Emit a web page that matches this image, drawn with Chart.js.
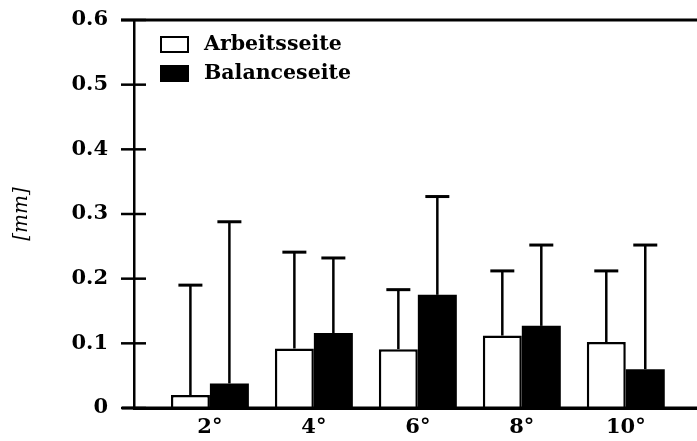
<!DOCTYPE html>
<html>
<head>
<meta charset="utf-8">
<script src="https://cdn.jsdelivr.net/npm/chart.js@4/dist/chart.umd.min.js"></script>
<style>
  html, body { margin: 0; padding: 0; background: #fff; }
  #wrap { width: 697px; height: 441px; position: relative; }
</style>
</head>
<body>
<div id="wrap"><canvas id="chart"></canvas></div>
<script>
// ---------- DATA ----------
const angles      = [2, 4, 6, 8, 10];
const angleLabels = ["2°", "4°", "6°", "8°", "10°"];
const yTicks      = [0, 0.1, 0.2, 0.3, 0.4, 0.5, 0.6];

const arbeitMean  = [0.02, 0.092, 0.091, 0.112, 0.102];
const arbeitSD    = [0.19, 0.241, 0.183, 0.212, 0.212];
const balanceMean = [0.038, 0.116, 0.175, 0.127, 0.060];
const balanceSD   = [0.288, 0.232, 0.327, 0.252, 0.252];

const SERIF = '"DejaVu Serif", "Liberation Serif", serif';

// ---------- ERROR BARS (upper only) ----------
const errorBars = {
  id: "errorBars",
  afterDatasetsDraw(chart) {
    const ctx = chart.ctx;
    const y = chart.scales.y;
    chart.data.datasets.forEach((ds, i) => {
      const meta = chart.getDatasetMeta(i);
      meta.data.forEach((bar, j) => {
        const top = y.getPixelForValue(ds.errTop[j]);
        ctx.save();
        ctx.strokeStyle = "#000";
        ctx.lineWidth = 2.5;
        ctx.beginPath();
        ctx.moveTo(bar.x, bar.y);
        ctx.lineTo(bar.x, top);
        ctx.stroke();
        ctx.lineWidth = 3;
        ctx.beginPath();
        ctx.moveTo(bar.x - 12, top);
        ctx.lineTo(bar.x + 12, top);
        ctx.stroke();
        ctx.restore();
      });
    });
  }
};

// ---------- FRAME: tick crosses, top + bottom lines ----------
const frame = {
  id: "frame",
  afterDraw(chart) {
    const ctx = chart.ctx;
    const a = chart.chartArea;
    const y = chart.scales.y;
    ctx.save();
    ctx.strokeStyle = "#000";
    ctx.lineWidth = 2.5;
    y.ticks.forEach(t => {
      const py = y.getPixelForValue(t.value);
      ctx.beginPath();
      ctx.moveTo(a.left - 13, py);
      ctx.lineTo(a.left + 12, py);
      ctx.stroke();
    });
    ctx.lineWidth = 3;
    ctx.beginPath();
    ctx.moveTo(a.left - 13, a.top);
    ctx.lineTo(a.right, a.top);
    ctx.stroke();
    ctx.beginPath();
    ctx.moveTo(a.left - 12, a.bottom);
    ctx.lineTo(a.right, a.bottom);
    ctx.stroke();
    ctx.restore();
  }
};

// ---------- LEGEND inside plot ----------
const innerLegend = {
  id: "innerLegend",
  afterDraw(chart) {
    const ctx = chart.ctx;
    const a = chart.chartArea;
    ctx.save();
    ctx.font = "bold 20.5px " + SERIF;
    ctx.textBaseline = "middle";
    chart.data.datasets.forEach((ds, i) => {
      const bx = a.left + 27, by = a.top + 17 + i * 29;
      ctx.fillStyle = ds.backgroundColor;
      ctx.fillRect(bx, by, 27, 15);
      ctx.strokeStyle = "#000";
      ctx.lineWidth = 2;
      ctx.strokeRect(bx, by, 27, 15);
      ctx.fillStyle = "#000";
      ctx.fillText(ds.label, bx + 43, by + 8);
    });
    ctx.restore();
  }
};

const mkData = (means) => angles.map((a, i) => ({ x: a, y: means[i] }));

new Chart(document.getElementById("chart"), {
  type: "bar",
  data: {
    datasets: [
      {
        label: "Arbeitsseite",
        data: mkData(arbeitMean),
        errTop: arbeitSD,
        backgroundColor: "#ffffff",
        borderColor: "#000000",
        borderWidth: 2.5
      },
      {
        label: "Balanceseite",
        data: mkData(balanceMean),
        errTop: balanceSD,
        backgroundColor: "#000000",
        borderColor: "#000000",
        borderWidth: 0
      }
    ]
  },
  options: {
    responsive: true,
    maintainAspectRatio: false,
    animation: false,
    layout: { padding: { top: 20, right: 0, bottom: 0, left: 0 } },
    categoryPercentage: 0.75,
    barPercentage: 1.0,
    plugins: {
      legend: { display: false },
      tooltip: { enabled: false }
    },
    scales: {
      x: {
        type: "linear",
        offset: false,
        min: 0.54,
        max: 11.37,
        grid: { display: false, drawTicks: false, offset: false },
        border: { display: true, color: "#000", width: 3 },
        afterBuildTicks: axis => { axis.ticks = angles.map(v => ({ value: v })); },
        afterFit: axis => { axis.height = 33; },
        ticks: {
          color: "#000",
          padding: 7,
          maxRotation: 0,
          autoSkip: false,
          font: { family: SERIF, size: 21, weight: "bold" },
          callback: v => angleLabels[angles.indexOf(v)]
        }
      },
      y: {
        min: 0,
        max: 0.6,
        grid: { display: false, drawTicks: false },
        border: { display: true, color: "#000", width: 2.5 },
        afterBuildTicks: axis => { axis.ticks = yTicks.map(v => ({ value: v })); },
        afterFit: axis => {
          axis.width = 134;
          axis.paddingTop = 0;
          axis.paddingBottom = 0;
        },
        title: {
          display: true,
          text: "[mm]",
          color: "#000",
          font: { family: SERIF, size: 20, style: "italic" },
          padding: { top: 10, bottom: 0 }
        },
        ticks: {
          color: "#000",
          padding: 26,
          font: { family: SERIF, size: 21, weight: "bold" },
          callback: v => (v === 0 ? "0" : v.toFixed(1))
        }
      }
    }
  },
  plugins: [errorBars, frame, innerLegend]
});
</script>
</body>
</html>
